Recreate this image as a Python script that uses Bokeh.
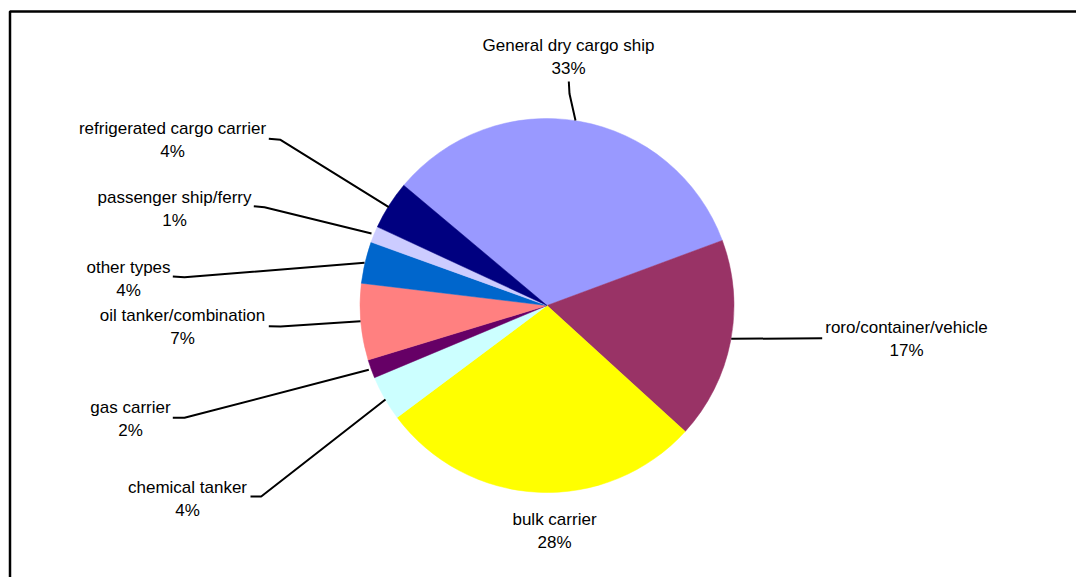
import math
from bokeh.plotting import figure
from bokeh.models import Range1d, ColumnDataSource
from bokeh.core.properties import value
from bokeh.embed import file_html
from bokeh.resources import INLINE

# ---- data ----
categories = ["General dry cargo ship", "roro/container/vehicle", "bulk carrier",
              "chemical tanker", "gas carrier", "oil tanker/combination",
              "other types", "passenger ship/ferry", "refrigerated cargo carrier"]
shares = [33.2, 17.4, 28.0, 3.9, 1.6, 6.6, 3.6, 1.4, 4.2]
colors = ["#9999FF", "#993366", "#FFFF00", "#CCFFFF", "#660066",
          "#FF8080", "#0066CC", "#CCCCFF", "#000080"]

# ---- layout (page pixel coordinates) ----
W, H = 1076, 577
def px(X):
    return X
def py(Y):
    return H - Y

CX, CY, R = 546.5, 305, 187
START_DEG = 140.0

# label centers (page coords) for first line, per category
label_pos = [(568, 45), (906, 327), (554, 519), (187, 487), (130, 407),
             (182, 315), (128, 267), (174, 197), (172, 128)]
LINE_GAP = 22.5

# leader lines (page coords)
leaders = [
    [(568.3, 81), (569, 93.3), (575, 120)],
    [(821.7, 337.8), (730.7, 338.3)],
    [],
    [(250, 496), (260.7, 496), (385, 399)],
    [(172.3, 417.3), (184, 417.3), (368.3, 369.3)],
    [(268.3, 325.7), (280, 326), (360, 320.7)],
    [(172.3, 276), (184, 276.7), (364, 262.3)],
    [(253.3, 205.7), (264, 206.7), (371, 233)],
    [(268.3, 138.3), (280, 139.3), (388.3, 206.7)],
]

p = figure(width=W, height=H, output_backend="svg", toolbar_location=None,
           x_range=Range1d(0, W), y_range=Range1d(0, H),
           min_border=0, min_border_left=0, min_border_right=0,
           min_border_top=0, min_border_bottom=0)
p.axis.visible = False
p.grid.visible = False
p.outline_line_color = None
p.background_fill_color = "white"
p.border_fill_color = "white"

total = sum(shares)
starts, ends = [], []
cum = 0.0
for v in shares:
    a0 = START_DEG - (cum + v) / total * 360.0
    a1 = START_DEG - cum / total * 360.0
    starts.append(math.radians(a0))
    ends.append(math.radians(a1))
    cum += v

src = ColumnDataSource(dict(x=[px(CX)] * len(shares), y=[py(CY)] * len(shares),
                            start=starts, end=ends, color=colors, name=categories))
p.wedge(x="x", y="y", radius=R, start_angle="start", end_angle="end",
        direction="anticlock", fill_color="color", line_color="color",
        line_width=0.5, source=src)

# leader lines
xs, ys = [], []
for seg in leaders:
    if seg:
        xs.append([px(a) for a, b in seg])
        ys.append([py(b) for a, b in seg])
p.multi_line(xs=xs, ys=ys, line_color="black", line_width=2)

# labels
pcts = ["%d%%" % round(v / total * 100) for v in shares]
lx = [px(x) for x, y in label_pos]
ly1 = [py(y) for x, y in label_pos]
ly2 = [py(y + LINE_GAP) for x, y in label_pos]
p.text(x=lx, y=ly1, text=categories, text_font=value("Liberation Sans"),
       text_font_size="17px", text_align="center", text_baseline="middle",
       text_color="black")
p.text(x=lx, y=ly2, text=pcts, text_font=value("Liberation Sans"),
       text_font_size="17px", text_align="center", text_baseline="middle",
       text_color="black")

# chart area frame (extends past the visible window at right and bottom)
p.line(x=[px(9.5), px(9.5), W + 50], y=[-50, py(11), py(11)],
       line_color="black", line_width=2.5)

open("out.html", "w").write(file_html(p, INLINE))
